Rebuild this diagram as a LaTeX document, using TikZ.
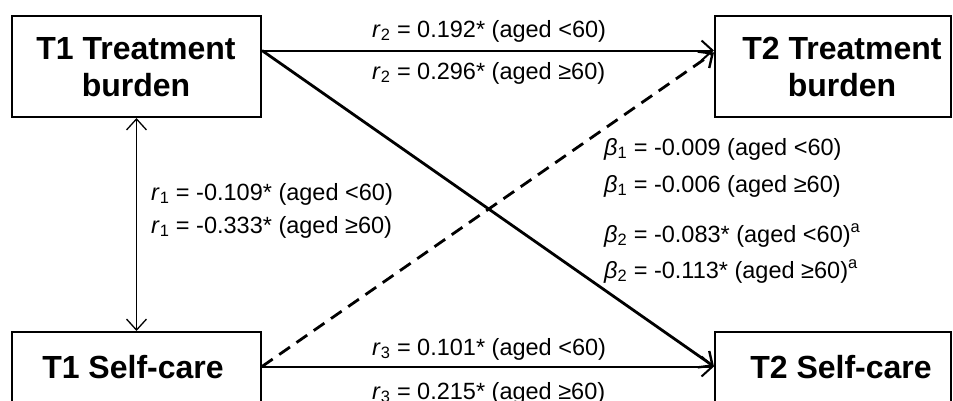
\documentclass[tikz,border=0pt]{standalone}
\usepackage{fontspec}
\setmainfont{Liberation Sans}
\usetikzlibrary{arrows.meta}
\newcommand{\rr}[1]{\textit{r}\textsubscript{#1}}
\newcommand{\bb}[1]{\textit{β}\textsubscript{#1}}
\begin{document}
\begin{tikzpicture}[x=1pt,y=-1pt,
  box/.style={draw, line width=2pt, minimum width=249pt, minimum height=101pt, inner sep=0pt},
  boxtext/.style={font=\fontsize{32}{37}\selectfont\bfseries, align=center, inner sep=0pt},
  lbl/.style={font=\fontsize{23.5}{28}\selectfont, inner sep=0pt},
  conn/.style={line width=2pt, -{Straight Barb[length=11pt,width=20pt,line width=2pt]}},
  diag/.style={line width=2.8pt, -{Straight Barb[length=11pt,width=20pt,line width=2.4pt]}},
  dsh/.style={line width=2.8pt, dash pattern=on 13pt off 8pt, -{Straight Barb[length=11pt,width=20pt,line width=2.4pt]}},
  dbl/.style={line width=1.3pt, {Straight Barb[length=11pt,width=20pt,line width=1.3pt]}-{Straight Barb[length=11pt,width=20pt,line width=1.3pt]}}
]
\useasboundingbox (0,0) rectangle (953,400);
% boxes
\node[box] (t1tb) at (136.5,66.5) {};
\node[boxtext] (t1tbt) at (136,67) {T1 Treatment\\burden};
\node[box, minimum width=236pt] (t2tb) at (833,66.5) {};
\node[boxtext] (t2tbt) at (842,67) {T2 Treatment\\burden};
\node[box, minimum height=72pt] (t1sc) at (136.5,368) {};
\node[boxtext] (t1sct) at (133,367) {T1 Self-care};
\node[box, minimum width=236pt, minimum height=72pt] (t2sc) at (833,368) {};
\node[boxtext] (t2sct) at (841,367) {T2 Self-care};
% anchor points
\coordinate (a1) at ([yshift=16pt]t1tb.east);
\coordinate (b1) at ([yshift=16pt]t2tb.west);
\coordinate (b2) at ([yshift=14pt]t2tb.west);
\coordinate (c1) at ([yshift=1.5pt]t1sc.east);
\coordinate (d1) at ([yshift=1.5pt]t2sc.west);
% connectors
\draw[conn] (a1) -- (b1);
\draw[diag] (a1) -- (d1);
\draw[dsh] (c1) -- (b2);
\draw[conn] (c1) -- (d1);
\draw[dbl] (t1tb.south) -- (t1sc.north);
% labels
\node[lbl, anchor=base west] (l1) at (372,37) {\rr{2} = 0.192* (aged <60)};
\node[lbl, anchor=base west] (l2) at (372,79) {\rr{2} = 0.296* (aged ≥60)};
\node[lbl, anchor=base west] (l3) at (151,200) {\rr{1} = -0.109* (aged <60)};
\node[lbl, anchor=base west] (l4) at (151,233) {\rr{1} = -0.333* (aged ≥60)};
\node[lbl, anchor=base west] (l5) at (604,155) {\bb{1} = -0.009 (aged <60)};
\node[lbl, anchor=base west] (l6) at (604,192) {\bb{1} = -0.006 (aged ≥60)};
\node[lbl, anchor=base west] (l7) at (604,242) {\bb{2} = -0.083* (aged <60)\textsuperscript{a}};
\node[lbl, anchor=base west] (l8) at (604,278) {\bb{2} = -0.113* (aged ≥60)\textsuperscript{a}};
\node[lbl, anchor=base west] (l9) at (372,355) {\rr{3} = 0.101* (aged <60)};
\node[lbl, anchor=base west] (l10) at (372,399) {\rr{3} = 0.215* (aged ≥60)};
\end{tikzpicture}
\end{document}
